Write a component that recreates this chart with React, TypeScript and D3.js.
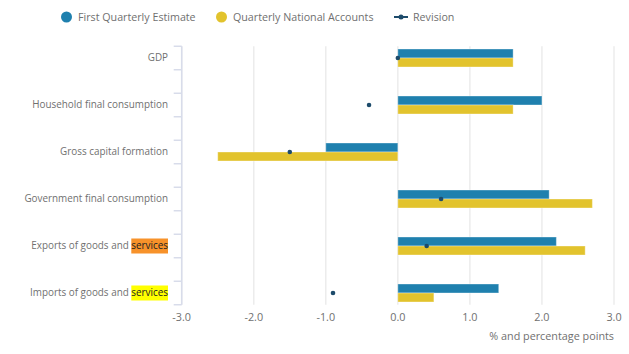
import { useEffect, useRef } from 'react'
import * as d3 from 'd3'

const categories = [
  'GDP',
  'Household final consumption',
  'Gross capital formation',
  'Government final consumption',
  'Exports of goods and services',
  'Imports of goods and services'
]
const firstEstimate = [1.6, 2.0, -1.0, 2.1, 2.2, 1.4]
const nationalAccounts = [1.6, 1.6, -2.5, 2.7, 2.6, 0.5]
const revision = [0.0, -0.4, -1.5, 0.6, 0.4, -0.9]
const xTicks = [-3, -2, -1, 0, 1, 2, 3]
const seriesNames = ['First Quarterly Estimate', 'Quarterly National Accounts', 'Revision']

// highlighted word in some category labels
const highlightWord = 'services'
const highlightColors: Record<number, string> = { 4: '#f7922a', 5: '#ffff00' }

const BLUE = '#1f80ae'
const YELLOW = '#e2c32d'
const NAVY = '#1d4b6b'
const TEXT = '#707070'

export default function App() {
  const svgRef = useRef<SVGSVGElement>(null)
  const width = 629
  const height = 354

  useEffect(() => {
    if (!svgRef.current) return
    const svg = d3.select(svgRef.current)
    svg.selectAll('*').remove()
    svg.style('font-family', '"Open Sans", sans-serif')

    const x = d3.scaleLinear().domain([-3, 3]).range([181.7, 614])
    const y = d3.scaleBand<string>().domain(categories).range([34.5, 316.5])
    const bw = y.bandwidth()
    const barH = 9

    // gridlines
    const gridTop = y(categories[0])! + bw / 2 - bw / 4
    const gridBottom = y(categories[categories.length - 1])! + bw / 2 + bw / 4
    svg.append('g')
      .selectAll('line')
      .data(xTicks)
      .enter()
      .append('line')
      .attr('x1', d => x(d))
      .attr('x2', d => x(d))
      .attr('y1', gridTop)
      .attr('y2', gridBottom)
      .attr('stroke', '#ececec')
      .attr('stroke-width', 1.5)

    // y axis line + ticks
    svg.append('line')
      .attr('x1', x(-3)).attr('x2', x(-3))
      .attr('y1', gridTop).attr('y2', gridBottom)
      .attr('stroke', '#d8dcea').attr('stroke-width', 1.5)
    const tickYs: number[] = []
    categories.forEach(c => {
      const cy = y(c)! + bw / 2
      tickYs.push(cy - bw / 4, cy + bw / 4)
    })
    svg.append('g')
      .selectAll('line')
      .data(tickYs)
      .enter()
      .append('line')
      .attr('x1', x(-3) - 8).attr('x2', x(-3))
      .attr('y1', d => d).attr('y2', d => d)
      .attr('stroke', '#d8dcea').attr('stroke-width', 1.5)

    // bars
    const bars = svg.append('g')
    categories.forEach((c, i) => {
      const cy = y(c)! + bw / 2
      const v1 = firstEstimate[i]
      const v2 = nationalAccounts[i]
      bars.append('rect')
        .attr('x', x(Math.min(0, v1)))
        .attr('width', Math.abs(x(v1) - x(0)))
        .attr('y', cy - barH)
        .attr('height', barH)
        .attr('fill', BLUE)
        .attr('stroke', 'rgba(255,255,255,0.35)')
        .attr('stroke-width', 1)
      bars.append('rect')
        .attr('x', x(Math.min(0, v2)))
        .attr('width', Math.abs(x(v2) - x(0)))
        .attr('y', cy)
        .attr('height', barH)
        .attr('fill', YELLOW)
        .attr('stroke', 'rgba(255,255,255,0.35)')
        .attr('stroke-width', 1)
    })

    // revision dots
    svg.append('g')
      .selectAll('circle')
      .data(revision)
      .enter()
      .append('circle')
      .attr('cx', d => x(d))
      .attr('cy', (_, i) => y(categories[i])! + bw / 2)
      .attr('r', 2.3)
      .attr('fill', NAVY)

    // category labels
    const labels = svg.append('g')
    categories.forEach((c, i) => {
      const cy = y(c)! + bw / 2
      const hl = highlightColors[i]
      const g = labels.append('g')
      const t = g.append('text')
        .attr('x', 168)
        .attr('y', cy)
        .attr('dy', '0.35em')
        .attr('text-anchor', 'end')
        .style('font-size', '9.9px')
        .style('fill', TEXT)
      if (hl && c.endsWith(highlightWord)) {
        t.append('tspan').text(c.slice(0, c.length - highlightWord.length))
        const ts = t.append('tspan').text(highlightWord).style('fill', '#222')
        const w = (ts.node() as SVGTSpanElement).getComputedTextLength()
        g.insert('rect', 'text')
          .attr('x', 168 - w)
          .attr('y', cy - 7.5)
          .attr('width', w)
          .attr('height', 15)
          .attr('fill', hl)
      } else {
        t.text(c)
      }
    })

    // x tick labels
    svg.append('g')
      .selectAll('text')
      .data(xTicks)
      .enter()
      .append('text')
      .attr('x', d => x(d))
      .attr('y', 321)
      .attr('text-anchor', 'middle')
      .style('font-size', '10.8px')
      .style('fill', TEXT)
      .text(d => d.toFixed(1))

    svg.append('text')
      .attr('x', 614)
      .attr('y', 340)
      .attr('text-anchor', 'end')
      .style('font-size', '10.8px')
      .style('fill', TEXT)
      .text('% and percentage points')

    // legend
    const legend = svg.append('g').attr('transform', 'translate(0, 17)')
    legend.append('circle').attr('cx', 66.5).attr('cy', 0).attr('r', 5.5).attr('fill', BLUE)
    legend.append('text').attr('x', 78).attr('dy', '0.35em')
      .style('font-size', '10.7px').style('fill', TEXT).text(seriesNames[0])
    legend.append('circle').attr('cx', 221.5).attr('cy', 0).attr('r', 5.5).attr('fill', YELLOW)
    legend.append('text').attr('x', 233).attr('dy', '0.35em')
      .style('font-size', '10.7px').style('fill', TEXT).text(seriesNames[1])
    legend.append('line').attr('x1', 394).attr('x2', 408).attr('y1', 0).attr('y2', 0)
      .attr('stroke', NAVY).attr('stroke-width', 2)
    legend.append('circle').attr('cx', 401).attr('cy', 0).attr('r', 2.5).attr('fill', NAVY)
    legend.append('text').attr('x', 413).attr('dy', '0.35em')
      .style('font-size', '10.7px').style('fill', TEXT).text(seriesNames[2])
  }, [])

  return (
    <svg
      ref={svgRef}
      width={width}
      height={height}
      style={{ position: 'absolute', left: 0, top: 0, background: '#fff' }}
    />
  )
}
